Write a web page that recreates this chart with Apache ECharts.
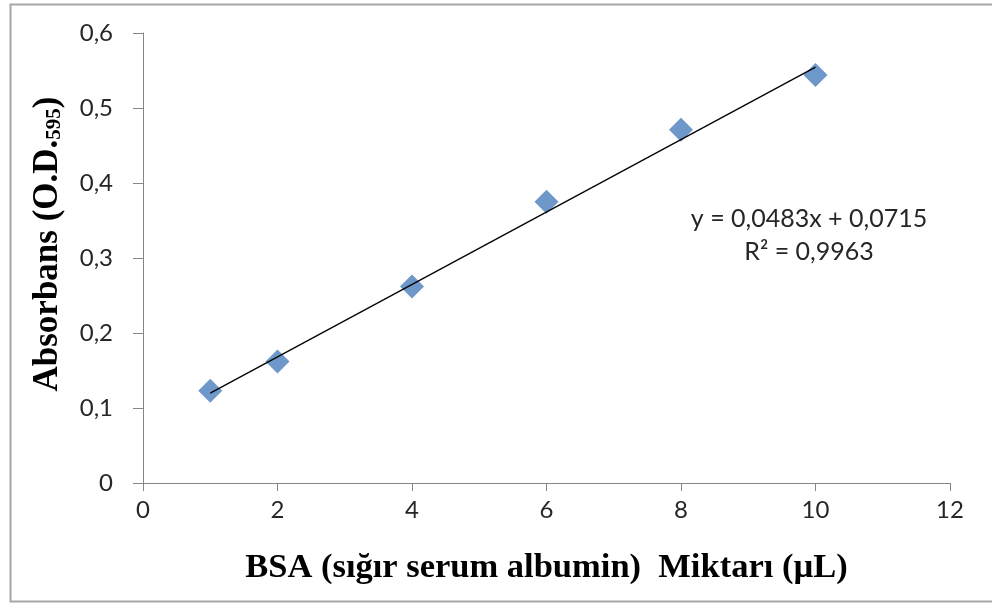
<!DOCTYPE html>
<html>
<head>
<meta charset="utf-8">
<script src="https://cdn.jsdelivr.net/npm/echarts@6/dist/echarts.min.js"></script>
<style>
html,body{margin:0;padding:0;background:#fff;}
#chart{width:992px;height:603px;}
</style>
</head>
<body>
<div id="chart"></div>
<script>
// Data
const bsaAmounts = [1, 2, 4, 6, 8, 10];
const absorbance = [0.123, 0.162, 0.262, 0.375, 0.471, 0.544];
// Linear trendline endpoints (x = 1 and x = 10) as displayed
const trendX = [1, 10];
const trendY = [0.1198, 0.5545];
const xTicks = [0, 2, 4, 6, 8, 10, 12];
const yTicks = ['0', '0,1', '0,2', '0,3', '0,4', '0,5', '0,6'];
const equationText = 'y = 0,0483x + 0,0715';
const r2Text = 'R² = 0,9963';
const xTitle = 'BSA (sığır serum albumin)  Miktarı (µL)';

const chart = echarts.init(document.getElementById('chart'));
const tickFont = {fontFamily: 'Lato', fontSize: 24, color: '#262626'};
const option = {
  animation: false,
  backgroundColor: '#fff',
  grid: {left: 143, right: 42, top: 33, bottom: 120},
  xAxis: {
    type: 'value', min: 0, max: 12, interval: 2,
    splitLine: {show: false},
    axisLine: {lineStyle: {color: '#868686', width: 1}},
    axisTick: {show: true, length: 8, lineStyle: {color: '#868686'}},
    axisLabel: Object.assign({margin: 15, formatter: v => String(v)}, tickFont),
    name: xTitle,
    nameLocation: 'middle',
    nameGap: 68,
    nameTextStyle: {fontFamily: 'Liberation Serif', fontWeight: 'bold', fontSize: 34.5, color: '#000'}
  },
  yAxis: {
    type: 'value', min: 0, max: 0.6, interval: 0.1,
    splitLine: {show: false},
    axisLine: {show: true, lineStyle: {color: '#868686', width: 1}},
    axisTick: {show: true, length: 10, lineStyle: {color: '#868686'}},
    axisLabel: Object.assign({margin: 30, formatter: v => yTicks[Math.round(v * 10)]}, tickFont),
    name: '{n|Absorbans (O.D.}{s|595}{n|)}',
    nameLocation: 'middle',
    nameGap: 78,
    nameRotate: 90,
    nameTextStyle: {
      padding: [0, 0, 0, 28],
      rich: {
        n: {fontFamily: 'Liberation Serif', fontWeight: 'bold', fontSize: 35, color: '#000'},
        s: {fontFamily: 'Liberation Serif', fontWeight: 'bold', fontSize: 21, color: '#000', verticalAlign: 'bottom', padding: [10, 0, 0, 0]}
      }
    }
  },
  series: [
    {
      type: 'line',
      data: trendX.map((x, i) => [x, trendY[i]]),
      symbol: 'none',
      lineStyle: {color: '#000', width: 1.3},
      z: 3
    },
    {
      type: 'scatter',
      data: bsaAmounts.map((x, i) => [x, absorbance[i]]),
      symbol: 'diamond',
      symbolSize: 24,
      itemStyle: {color: '#4a7ebb'},
      z: 2
    }
  ],
  graphic: [
    {
      type: 'rect', left: 8, top: 2, silent: true,
      shape: {width: 1000, height: 597},
      style: {fill: 'none', stroke: '#a6a6a6', lineWidth: 2}
    },
    {
      type: 'text', x: 809, y: 219,
      style: {text: equationText, font: '25px Lato', fill: '#262626', align: 'center', verticalAlign: 'middle'}
    },
    {
      type: 'text', x: 809, y: 252,
      style: {text: r2Text, font: '25px Lato', fill: '#262626', align: 'center', verticalAlign: 'middle'}
    }
  ]
};
chart.setOption(option);
</script>
</body>
</html>
